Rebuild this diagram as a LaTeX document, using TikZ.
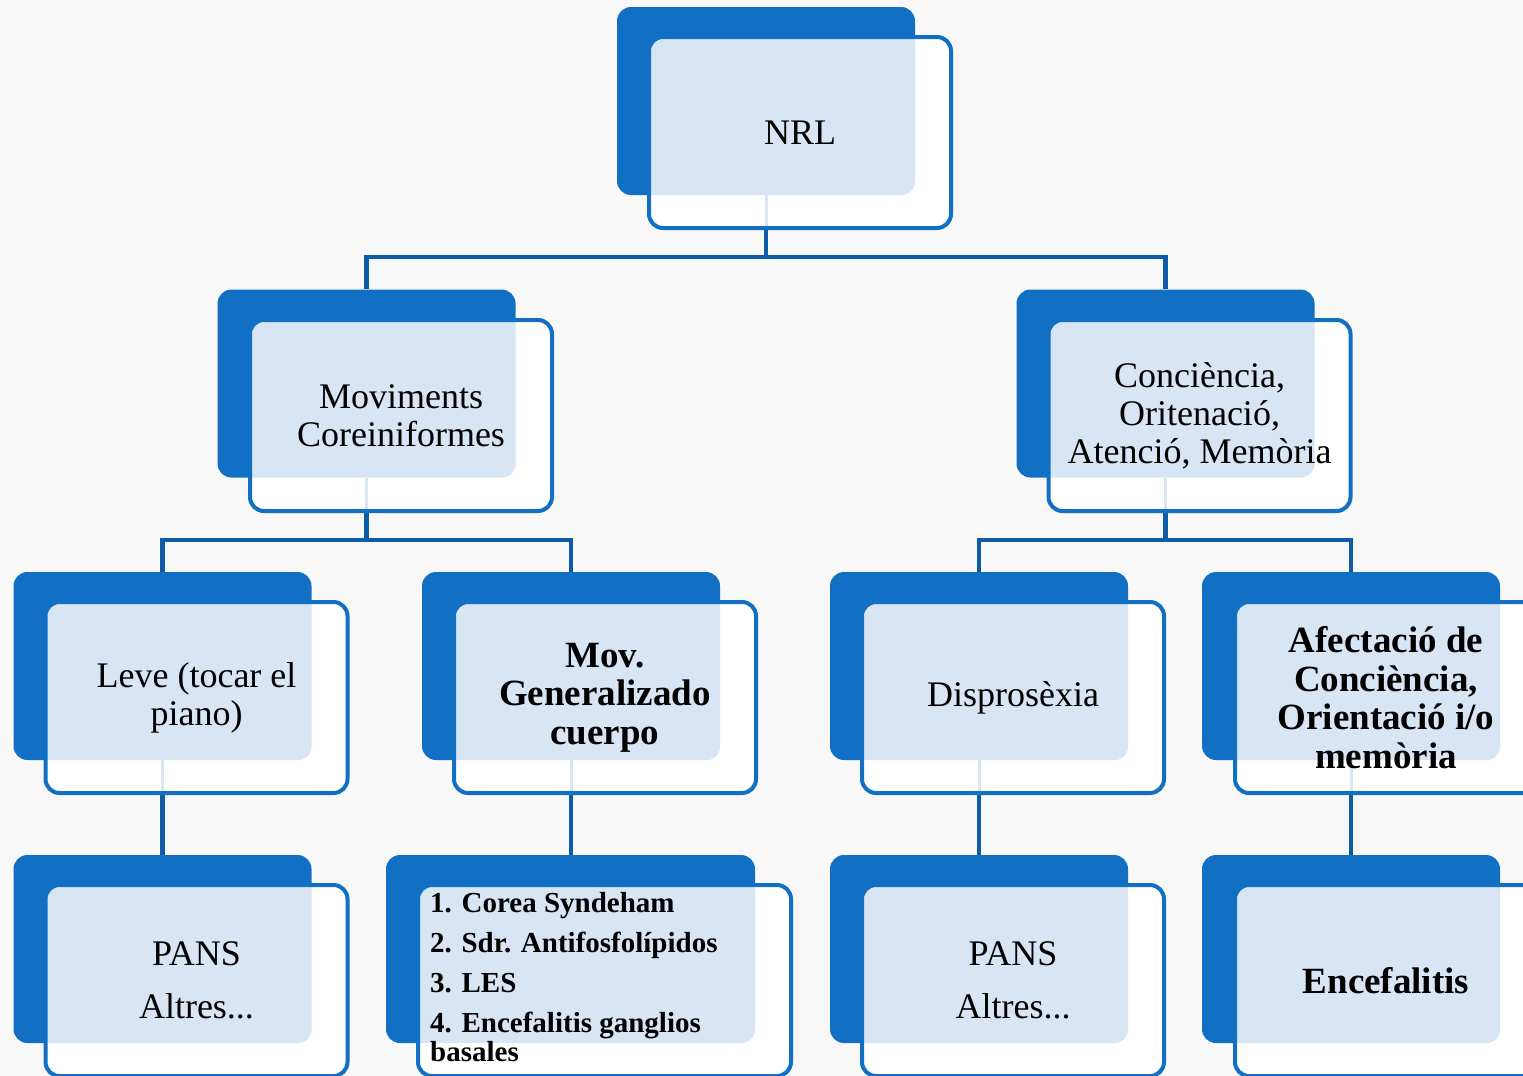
\documentclass[tikz,border=0pt]{standalone}
\usepackage{fontspec}
\setmainfont{Liberation Serif}
\definecolor{dk}{HTML}{1170C4}
\definecolor{ln}{HTML}{0E5CA8}
\definecolor{lt}{HTML}{D8E5F4}
\definecolor{bg}{HTML}{F8F8F8}
\begin{document}
\begin{tikzpicture}[x=1pt,y=-1pt,
  back/.style={fill=dk, rounded corners=14pt, inner sep=0pt, minimum width=298pt, minimum height=188pt},
  front/.style={fill=white, draw=dk, line width=4pt, rounded corners=14pt, inner sep=0pt,
    minimum width=302pt, minimum height=191pt, align=center,
    font=\fontsize{36}{38}\selectfont,
    path picture={\fill[lt, rounded corners=14pt] (#1.south west) rectangle (#1.north east);}},
  parent/.style={front=#1,
    path picture={\fill[lt, rounded corners=14pt] (#1.south west) rectangle (#1.north east);
      \draw[lt, line width=3pt, sharp corners] (#1.south) -- (#1.south |- path picture bounding box.south);}},
  bfont/.style={font=\fontsize{37}{38.5}\selectfont\bfseries},
  conn/.style={draw=ln, line width=4.5pt}]
\useasboundingbox (0,0) rectangle (1523,1076);
\clip (0,0) rectangle (1523,1076);
\fill[bg] (0,0) rectangle (1523,1076);

% back boxes
\node[back] (nrlB) at (766,101) {};
\node[back] (movB) at (366.5,383.5) {};
\node[back] (conB) at (1165.5,383.5) {};
\node[back] (leveB) at (162.5,666) {};
\node[back] (genB) at (571,666) {};
\node[back] (disB) at (979,666) {};
\node[back] (afeB) at (1351,666) {};
\node[back] (pans1B) at (162.5,949) {};
\node[back, minimum width=369pt] (listB) at (570.5,949) {};
\node[back] (pans2B) at (979,949) {};
\node[back] (encB) at (1351,949) {};

% front boxes
\node[parent=nrlB] (nrl) at (800,132.5) {NRL};
\node[parent=movB] (mov) at (401,415.5) {Moviments\\Coreiniformes};
\node[parent=conB] (con) at (1199.5,415.5) {Conciència,\\Oritenació,\\Atenció, Memòria};
\node[parent=leveB] (leve) at (196.5,697.5) {Leve (tocar el\\piano)};
\node[parent=genB, bfont] (gen) at (605,697.5) {Mov.\\Generalizado\\cuerpo};
\node[parent=disB] (dis) at (1013,697.5) {Disprosèxia};
\node[parent=afeB, bfont] (afe) at (1386,697.5) {Afectació de\\Conciència,\\Orientació i/o\\memòria};
\node[front=pans1B] (pans1) at (196.5,980.5) {PANS\\[15pt]Altres...};
\node[front=listB, minimum width=373pt] (list) at (604.5,980.5) {};
\node[front=pans2B] (pans2) at (1013,980.5) {PANS\\[15pt]Altres...};
\node[front=encB, bfont] (enc) at (1386,980.5) {Encefalitis};

\node[anchor=north west, inner sep=0pt, align=left, font=\fontsize{29}{29}\selectfont\bfseries]
  (listtxt) at (430,892) {1. Corea Syndeham\\[11pt]2. Sdr. Antifosfolípidos\\[11pt]3. LES\\[11pt]4. Encefalitis ganglios\\basales};

% connectors
\coordinate (j1) at (0,257);
\coordinate (j2) at (0,540);
\draw[conn] (nrlB.south |- nrl.south) -- (nrlB.south |- j1) -| (movB.north);
\draw[conn] (nrlB.south |- j1) -| (conB.north);
\draw[conn] (movB.south |- mov.south) -- (movB.south |- j2) -| (leveB.north);
\draw[conn] (movB.south |- j2) -| (genB.north);
\draw[conn] (conB.south |- con.south) -- (conB.south |- j2) -| (disB.north);
\draw[conn] (conB.south |- j2) -| (afeB.north);
\draw[conn] (leveB.south |- leve.south) -- (pans1B.north);
\draw[conn] (genB.south |- gen.south) -- (genB.south |- listB.north);
\draw[conn] (disB.south |- dis.south) -- (pans2B.north);
\draw[conn] (afeB.south |- afe.south) -- (encB.north);
\end{tikzpicture}
\end{document}
